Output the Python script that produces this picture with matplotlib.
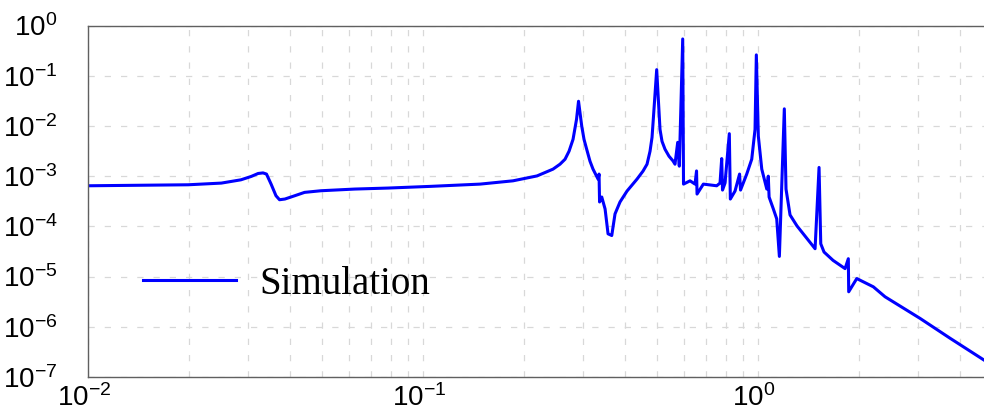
import matplotlib
matplotlib.use("Agg")
import matplotlib.pyplot as plt
import matplotlib.ticker as mticker
import matplotlib.transforms as mtrans

# Frequency (x) and magnitude (y)
freq = [0.0100, 0.0199, 0.0250, 0.0286, 0.0307, 0.0322, 0.0333, 0.0341, 0.0352,
        0.0364, 0.0373, 0.0387, 0.0414, 0.0443, 0.0496, 0.0625, 0.0786, 0.1049,
        0.1480, 0.1856, 0.2189, 0.2444, 0.2564, 0.2654, 0.2728, 0.2804, 0.2872,
        0.2912, 0.2977, 0.3024, 0.3080, 0.3151, 0.3217, 0.3331, 0.3353, 0.3365,
        0.3416, 0.3495, 0.3567, 0.3659, 0.3692, 0.3742, 0.3873, 0.4064, 0.4352,
        0.4536, 0.4663, 0.4760, 0.4826, 0.4868, 0.4983, 0.5098, 0.5169, 0.5277,
        0.5424, 0.5574, 0.5651, 0.5757, 0.5821, 0.5959, 0.5992, 0.6266, 0.6485,
        0.6553, 0.6576, 0.6867, 0.7527, 0.7701, 0.7790, 0.7834, 0.7970, 0.8209,
        0.8267, 0.8538, 0.8808, 0.8867, 0.9253, 0.9576, 0.9796, 0.9884, 1.002,
        1.026, 1.062, 1.073, 1.079, 1.111, 1.137, 1.158, 1.198, 1.212, 1.246,
        1.307, 1.480, 1.521, 1.539, 1.574, 1.675, 1.819, 1.860, 1.865, 1.971,
        2.209, 2.394, 3.045, 3.742, 4.728, 5.0]
magnitude = [6.43e-4, 6.73e-4, 7.27e-4, 8.45e-4, 9.86e-4, 1.13e-3, 1.16e-3, 1.10e-3, 6.94e-4,
             4.07e-4, 3.39e-4, 3.50e-4, 4.07e-4, 4.75e-4, 5.12e-4, 5.53e-4, 5.79e-4, 6.25e-4,
             6.94e-4, 8.07e-4, 1.01e-3, 1.38e-3, 1.73e-3, 2.17e-3, 3.13e-3, 5.40e-3, 1.35e-2,
             3.10e-2, 9.9e-3, 5.40e-3, 3.43e-3, 1.98e-3, 1.38e-3, 8.72e-4, 1.10e-3, 3.06e-4,
             3.84e-4, 2.22e-4, 7.1e-5, 6.57e-5, 9.77e-5, 1.77e-4, 3.06e-4, 5.05e-4, 8.72e-4,
             1.26e-3, 1.73e-3, 3.13e-3, 5.92e-3, 1.35e-2, 1.32e-1, 8.53e-3, 4.93e-3, 3.43e-3,
             2.49e-3, 2.01e-3, 1.73e-3, 4.71e-3, 1.58e-3, 5.40e-1, 6.94e-4, 8.07e-4, 6.94e-4,
             1.27e-3, 4.40e-4, 6.94e-4, 6.43e-4, 7.27e-4, 2.24e-3, 5.28e-4, 7.27e-4, 7.01e-3,
             3.50e-4, 5.05e-4, 1.10e-3, 5.28e-4, 1.10e-3, 2.17e-3, 8.53e-3, 2.60e-1, 6.28e-3,
             1.38e-3, 5.53e-4, 1.00e-3, 3.84e-4, 2.22e-4, 1.41e-4, 2.52e-5, 2.19e-2, 5.53e-4, 1.69e-4,
             1.02e-4, 3.59e-5, 1.49e-3, 4.50e-5, 3.08e-5, 2.10e-5, 1.44e-5, 2.27e-5, 4.98e-6, 9.13e-6,
             6.25e-6, 3.96e-6, 1.47e-6, 5.92e-7, 2.17e-7, 1.73e-7]
series_label = "Simulation"
x_major_ticks = [1e-2, 1e-1, 1e0]
y_major_ticks = [1e-7, 1e-6, 1e-5, 1e-4, 1e-3, 1e-2, 1e-1, 1e0]

plt.rcParams['font.family'] = ['Liberation Sans', 'DejaVu Sans']

fig = plt.figure(figsize=(9.84, 4.18), dpi=100)
W, H = 984, 418
left_px, right_px, top_px, bottom_px = 88, 992.2, 25.5, 377
ax = fig.add_axes([left_px / W, (H - bottom_px) / H,
                   (right_px - left_px) / W, (bottom_px - top_px) / H])

ax.plot(freq, magnitude, color=(0, 0, 1), lw=2.2, label=series_label,
        solid_joinstyle='round')

ax.set_xscale('log')
ax.set_yscale('log')
ax.set_xlim(0.01, 5)
ax.set_ylim(1e-7, 1e0)

ax.xaxis.set_major_locator(mticker.FixedLocator(x_major_ticks))
ax.xaxis.set_major_formatter(mticker.LogFormatterSciNotation())
ax.xaxis.set_minor_locator(mticker.LogLocator(base=10, subs=range(2, 10), numticks=20))
ax.xaxis.set_minor_formatter(mticker.NullFormatter())
ax.yaxis.set_major_locator(mticker.FixedLocator(y_major_ticks))
ax.yaxis.set_major_formatter(mticker.LogFormatterSciNotation())
ax.yaxis.set_minor_locator(mticker.NullLocator())

grid_kw = dict(color='#d8d8d8', lw=0.9, linestyle=(0, (5, 8)))
ax.grid(True, which='major', axis='both', **grid_kw)
ax.grid(True, which='minor', axis='x', **grid_kw)
ax.set_axisbelow(True)

ax.tick_params(axis='both', which='both', length=0, labelsize=20, colors='black')
ax.tick_params(axis='y', pad=22)
ax.tick_params(axis='x', pad=5)
offset = mtrans.ScaledTranslation(-4 / 100, 0, fig.dpi_scale_trans)
for lab in ax.get_xticklabels():
    lab.set_transform(lab.get_transform() + offset)

for s in ['left', 'top', 'bottom']:
    ax.spines[s].set_color('#606060')
    ax.spines[s].set_linewidth(1.0)
ax.spines['right'].set_visible(False)

ax.legend(loc='center left', bbox_to_anchor=(55 / (right_px - left_px), (bottom_px - 284) / (bottom_px - top_px)),
          frameon=False, borderpad=0, borderaxespad=0, handlelength=2.4, handletextpad=0.6,
          prop={'family': 'Liberation Serif', 'size': 28})

fig.savefig('out.png', dpi=100)
